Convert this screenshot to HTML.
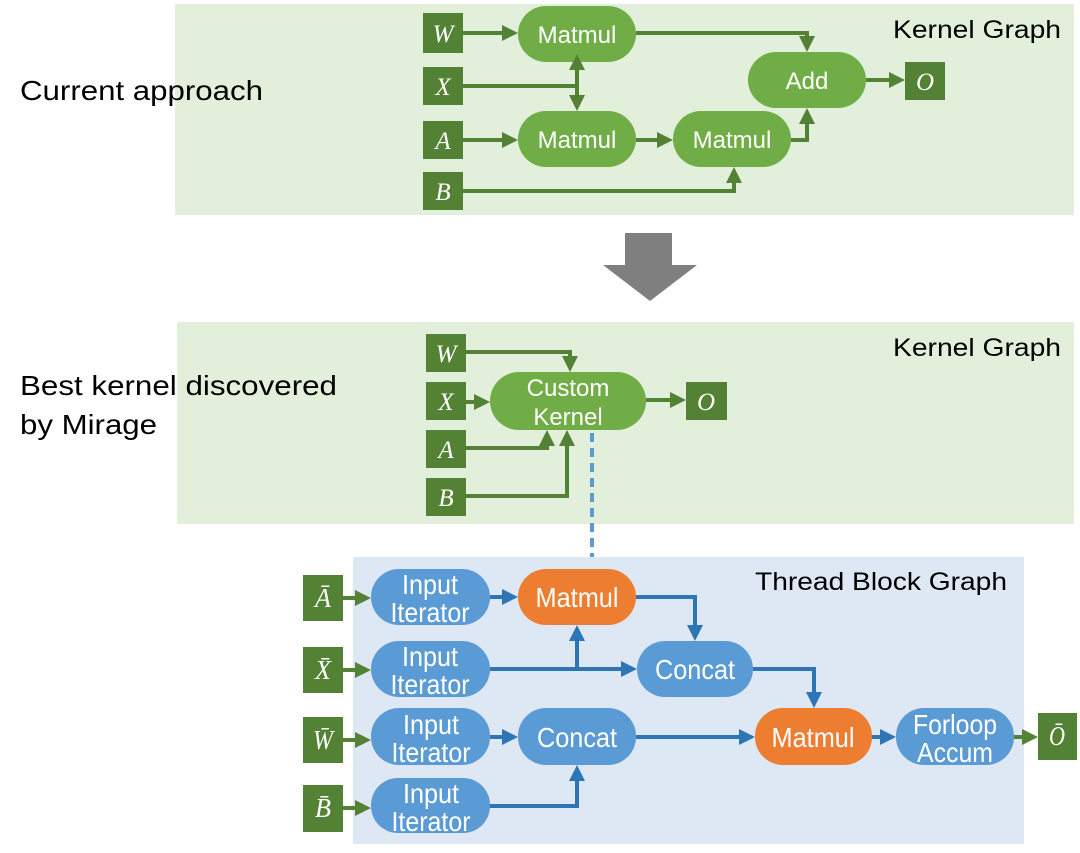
<!DOCTYPE html>
<html><head><meta charset="utf-8"><style>
body{margin:0;background:#fff}
svg{display:block}
text{font-family:"Liberation Sans",sans-serif}
.w{fill:#fff;font-size:24px;text-anchor:middle}
.n{fill:#fff;font-size:28px;text-anchor:middle}
text.v{fill:#fff;font-family:"Liberation Serif",serif;font-style:italic;font-size:25px;text-anchor:middle}
text.vb{fill:#fff;font-family:"Liberation Serif",serif;font-style:italic;font-size:27px;text-anchor:middle}
.g{stroke:#548235;stroke-width:4;fill:none}
.b{stroke:#2e75b6;stroke-width:4;fill:none}
</style></head><body>
<svg width="1080" height="853" viewBox="0 0 1080 853" xmlns="http://www.w3.org/2000/svg">
<defs>
<marker id="ag" markerWidth="4" markerHeight="4" refX="3" refY="2" orient="auto" markerUnits="strokeWidth"><path d="M0,0 L4,2 L0,4z" fill="#548235"/></marker>
<marker id="ab" markerWidth="4" markerHeight="4" refX="3" refY="2" orient="auto" markerUnits="strokeWidth"><path d="M0,0 L4,2 L0,4z" fill="#2e75b6"/></marker>
<marker id="ags" markerWidth="4" markerHeight="4" refX="1" refY="2" orient="auto-start-reverse" markerUnits="strokeWidth"><path d="M0,0 L4,2 L0,4z" fill="#548235"/></marker>
</defs>
<rect x="175" y="4" width="899" height="211" fill="#e2efda"/>
<text x="20" y="100" font-size="28" textLength="243" lengthAdjust="spacingAndGlyphs">Current approach</text>
<text x="893" y="38" font-size="25" textLength="168" lengthAdjust="spacingAndGlyphs">Kernel Graph</text>
<g fill="#548235">
<rect x="423" y="13" width="40" height="40"/><rect x="423" y="67" width="40" height="38"/>
<rect x="423" y="121" width="40" height="38"/><rect x="423" y="172" width="40" height="38"/>
<rect x="905" y="62" width="40" height="38"/>
</g>
<text class="v" x="443" y="42">W</text><text class="v" x="443" y="95">X</text><text class="v" x="443" y="149">A</text><text class="v" x="443" y="200">B</text><text class="v" x="925" y="90">O</text>
<g fill="#70ad47">
<rect x="518" y="6" width="118" height="56" rx="28"/>
<rect x="518" y="111" width="118" height="56" rx="28"/>
<rect x="673" y="111" width="118" height="56" rx="28"/>
<rect x="748" y="52" width="118" height="56" rx="28"/>
</g>
<text class="w" x="577" y="43">Matmul</text><text class="w" x="577" y="148">Matmul</text><text class="w" x="732" y="148">Matmul</text><text class="w" x="807" y="89">Add</text>
<path class="g" d="M463,33 H514" marker-end="url(#ag)"/>
<path class="g" d="M636,33 H807 V48" marker-end="url(#ag)"/>
<path class="g" d="M463,86 H577"/>
<path class="g" d="M577,66 V107" marker-start="url(#ags)" marker-end="url(#ag)"/>
<path class="g" d="M463,140 H514" marker-end="url(#ag)"/>
<path class="g" d="M636,140 H669" marker-end="url(#ag)"/>
<path class="g" d="M791,140 H807 V112" marker-end="url(#ag)"/>
<path class="g" d="M463,191 H734 V171" marker-end="url(#ag)"/>
<path class="g" d="M866,80 H901" marker-end="url(#ag)"/>
<path d="M625,233 H672 V265 H697 L650,301 L603,265 H625Z" fill="#7f7f7f"/>
<rect x="177" y="322" width="897" height="202" fill="#e2efda"/>
<text x="20" y="395" font-size="28" textLength="317" lengthAdjust="spacingAndGlyphs">Best kernel discovered</text>
<text x="20" y="434" font-size="28" textLength="137" lengthAdjust="spacingAndGlyphs">by Mirage</text>
<text x="893" y="356" font-size="25" textLength="168" lengthAdjust="spacingAndGlyphs">Kernel Graph</text>
<g fill="#548235">
<rect x="426" y="334" width="40" height="38"/><rect x="426" y="382" width="40" height="38"/>
<rect x="426" y="430" width="40" height="38"/><rect x="426" y="478" width="40" height="38"/>
<rect x="686" y="382" width="41" height="38"/>
</g>
<text class="v" x="446" y="362">W</text><text class="v" x="446" y="410">X</text><text class="v" x="446" y="458">A</text><text class="v" x="446" y="506">B</text><text class="v" x="706" y="410">O</text>
<rect x="490" y="372" width="156" height="58" rx="29" fill="#70ad47"/>
<text class="w" x="568" y="396">Custom</text><text class="w" x="568" y="425">Kernel</text>
<path class="g" d="M466,352 H570 V368" marker-end="url(#ag)"/>
<path class="g" d="M466,402 H486" marker-end="url(#ag)"/>
<path class="g" d="M466,448 H547 V434" marker-end="url(#ag)"/>
<path class="g" d="M466,496 H567 V434" marker-end="url(#ag)"/>
<path class="g" d="M646,400 H682" marker-end="url(#ag)"/>
<path d="M592,433 V557" stroke="#5b9bd5" stroke-width="4" stroke-dasharray="9,6"/>
<rect x="353" y="557" width="671" height="287" fill="#dde8f4"/>
<text x="755" y="590" font-size="25" textLength="252" lengthAdjust="spacingAndGlyphs">Thread Block Graph</text>
<g fill="#548235">
<rect x="303" y="575" width="40" height="46"/><rect x="303" y="647" width="40" height="46"/>
<rect x="303" y="717" width="40" height="46"/><rect x="303" y="785" width="40" height="47"/>
<rect x="1038" y="713" width="39" height="47"/>
</g>
<text class="vb" x="323" y="607" textLength="16" lengthAdjust="spacingAndGlyphs">Ā</text><text class="vb" x="323" y="679" textLength="16" lengthAdjust="spacingAndGlyphs">X̄</text><text class="vb" x="323" y="749" textLength="20" lengthAdjust="spacingAndGlyphs">W̄</text><text class="vb" x="323" y="817" textLength="16" lengthAdjust="spacingAndGlyphs">B̄</text><text class="vb" x="1057" y="745" textLength="16" lengthAdjust="spacingAndGlyphs">Ō</text>
<g fill="#5b9bd5">
<rect x="371" y="569" width="119" height="56" rx="28"/>
<rect x="371" y="641" width="119" height="56" rx="28"/>
<rect x="371" y="708" width="119" height="57" rx="28"/>
<rect x="371" y="778" width="119" height="55" rx="27"/>
<rect x="637" y="641" width="116" height="56" rx="28"/>
<rect x="518" y="708" width="118" height="57" rx="28"/>
<rect x="896" y="708" width="118" height="57" rx="28"/>
</g>
<g fill="#ed7d31">
<rect x="518" y="569" width="118" height="56" rx="28"/>
<rect x="755" y="708" width="117" height="57" rx="28"/>
</g>
<g class="n">
<text x="430" y="594" textLength="56" lengthAdjust="spacingAndGlyphs">Input</text><text x="430" y="622" textLength="79" lengthAdjust="spacingAndGlyphs">Iterator</text>
<text x="430" y="666" textLength="56" lengthAdjust="spacingAndGlyphs">Input</text><text x="430" y="694" textLength="79" lengthAdjust="spacingAndGlyphs">Iterator</text>
<text x="431" y="734" textLength="56" lengthAdjust="spacingAndGlyphs">Input</text><text x="431" y="762" textLength="79" lengthAdjust="spacingAndGlyphs">Iterator</text>
<text x="431" y="803" textLength="56" lengthAdjust="spacingAndGlyphs">Input</text><text x="431" y="831" textLength="79" lengthAdjust="spacingAndGlyphs">Iterator</text>
<text x="577" y="607" textLength="83" lengthAdjust="spacingAndGlyphs">Matmul</text>
<text x="695" y="679" textLength="80" lengthAdjust="spacingAndGlyphs">Concat</text>
<text x="577" y="747" textLength="80" lengthAdjust="spacingAndGlyphs">Concat</text>
<text x="813" y="747" textLength="83" lengthAdjust="spacingAndGlyphs">Matmul</text>
<text x="955" y="734" textLength="84" lengthAdjust="spacingAndGlyphs">Forloop</text><text x="955" y="762" textLength="76" lengthAdjust="spacingAndGlyphs">Accum</text>
</g>
<path class="g" d="M343,598 H367" marker-end="url(#ag)"/>
<path class="g" d="M343,670 H367" marker-end="url(#ag)"/>
<path class="g" d="M343,740 H367" marker-end="url(#ag)"/>
<path class="g" d="M343,808 H367" marker-end="url(#ag)"/>
<path class="g" d="M1014,737 H1034" marker-end="url(#ag)"/>
<path class="b" d="M490,597 H514" marker-end="url(#ab)"/>
<path class="b" d="M636,597 H695 V637" marker-end="url(#ab)"/>
<path class="b" d="M490,669 H633" marker-end="url(#ab)"/>
<path class="b" d="M577,669 V629" marker-end="url(#ab)"/>
<path class="b" d="M753,669 H814 V704" marker-end="url(#ab)"/>
<path class="b" d="M490,737 H514" marker-end="url(#ab)"/>
<path class="b" d="M636,737 H751" marker-end="url(#ab)"/>
<path class="b" d="M872,737 H892" marker-end="url(#ab)"/>
<path class="b" d="M490,806 H577 V769" marker-end="url(#ab)"/>
</svg>
</body></html>
